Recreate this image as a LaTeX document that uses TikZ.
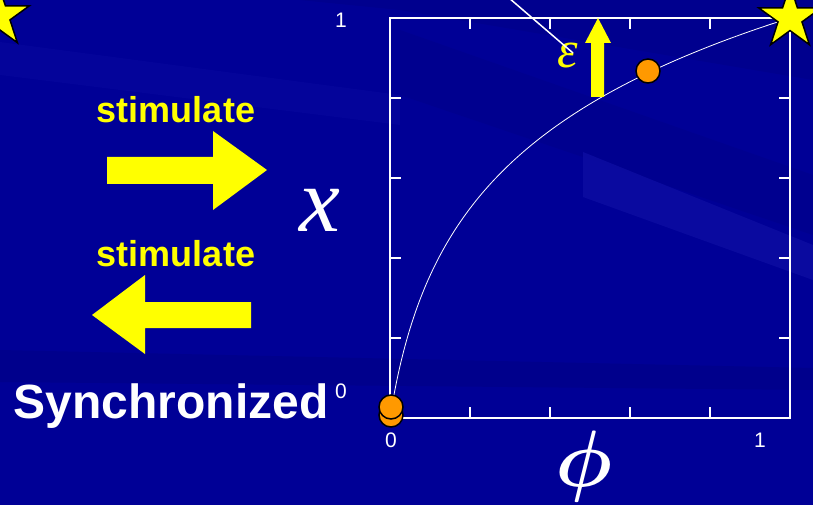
\documentclass[tikz,border=0pt]{standalone}
\usepackage{fontspec}
\usepackage{amsmath}
\setmainfont{Liberation Sans}
\newfontfamily\timesfont{Liberation Serif}
\usetikzlibrary{shapes.geometric}
\definecolor{Slide}{HTML}{000096}
\definecolor{SlideDark}{HTML}{000080}
\definecolor{SlideLight}{HTML}{0D0DA2}
\definecolor{Sun}{HTML}{FFFF00}
\definecolor{Amber}{HTML}{FF9900}

\begin{document}
\begin{tikzpicture}[x=1pt,y=-1pt,
    axis/.style={draw=white,line width=2.5pt},
    tick/.style={draw=white,line width=2pt},
    numlabel/.style={text=white,font=\fontsize{21}{24}\selectfont,inner sep=0pt},
    stimtext/.style={text=Sun,font=\bfseries\fontsize{36}{40}\selectfont,inner sep=0pt},
    dot/.style={circle,fill=Amber,draw=black,line width=1.5pt,minimum size=24pt,inner sep=0pt},
    bigstar/.style={star,star points=5,star point ratio=2.618,fill=Sun,draw=black,line width=1.5pt,minimum size=66pt,inner sep=0pt}]
    \useasboundingbox (0,0) rectangle (813,505);
    \fill[Slide] (0,0) rectangle (813,505);
    \fill[SlideDark,opacity=.35] (0,0) -- (813,0) -- (813,80) -- (400,10) -- (0,-30) -- cycle;
    \fill[SlideLight,opacity=.35] (0,42) -- (400,95) -- (400,125) -- (0,75) -- cycle;
    \fill[SlideDark,opacity=.3] (400,30) -- (813,175) -- (813,235) -- (400,95) -- cycle;
    \fill[SlideLight,opacity=.8] (583,152) -- (813,245) -- (813,280) -- (583,197) -- cycle;
    \fill[SlideDark,opacity=.45] (0,350) -- (813,368) -- (813,390) -- (0,382) -- cycle;

    \coordinate (O) at (390,418);
    \coordinate (T) at (790,18);
    \draw[axis,line join=miter] (O) rectangle (T);
    \foreach \t in {80,160,240,320} {
      \draw[tick] (390+\t,418) -- ++(0,-11);
      \draw[tick] (390+\t,18) -- ++(0,11);
      \draw[tick] (390,418-\t) -- ++(11,0);
      \draw[tick] (790,418-\t) -- ++(-11,0);
    }
    \draw[white,line width=.8pt] plot[domain=0:1,samples=120]
      ({390+400*\x*\x},{418-400*ln(1+19.0855*\x*\x)/3});

    \node[numlabel] (y1) at (341,20) {1};
    \node[numlabel] (y0) at (341,391) {0};
    \node[numlabel] (x0) at (391,440) {0};
    \node[numlabel] (x1) at (760,440) {1};
    \node[text=white,font=\timesfont\itshape\fontsize{92}{94}\selectfont,inner sep=0pt]
      (xlabel) at (320,210) {x};
    \node[text=white,inner sep=0pt] (philabel) at (584,466) {\scalebox{8}{$\boldsymbol{\phi}$}};

    \node[stimtext] (stimR) at (176,110) {stimulate};
    \node[stimtext] (stimL) at (176,254) {stimulate};
    \fill[Sun] (107,157) -- (213,157) -- (213,131) -- (267,170) -- (213,210)
      -- (213,184) -- (107,184) -- cycle;
    \fill[Sun] (251,302) -- (145,302) -- (145,275) -- (92,315) -- (145,354)
      -- (145,328) -- (251,328) -- cycle;
    \node[text=white,font=\bfseries\fontsize{48}{52}\selectfont,inner sep=0pt]
      (sync) at (171,406) {Synchronized};

    \node[text=Sun,font=\timesfont\itshape\fontsize{52}{54}\selectfont,inner sep=0pt]
      (eps) at (568,56) {ε};
    \coordinate (callout) at (509,-2);
    \draw[white,line width=1.5pt] (callout) -- (573,53);
    \fill[Sun] (591,97) -- (591,43) -- (585,43) -- (598,18) -- (611,43)
      -- (604,43) -- (604,97) -- cycle;

    \node[dot] (phase) at (648,71) {};
    \node[dot] (syncB) at (391,415) {};
    \node[dot] (syncA) at (391,407) {};
    \node[bigstar] (starL) at (-2,16) {};
    \node[bigstar] (starR) at (790,18) {};
  \end{tikzpicture}
\end{document}
